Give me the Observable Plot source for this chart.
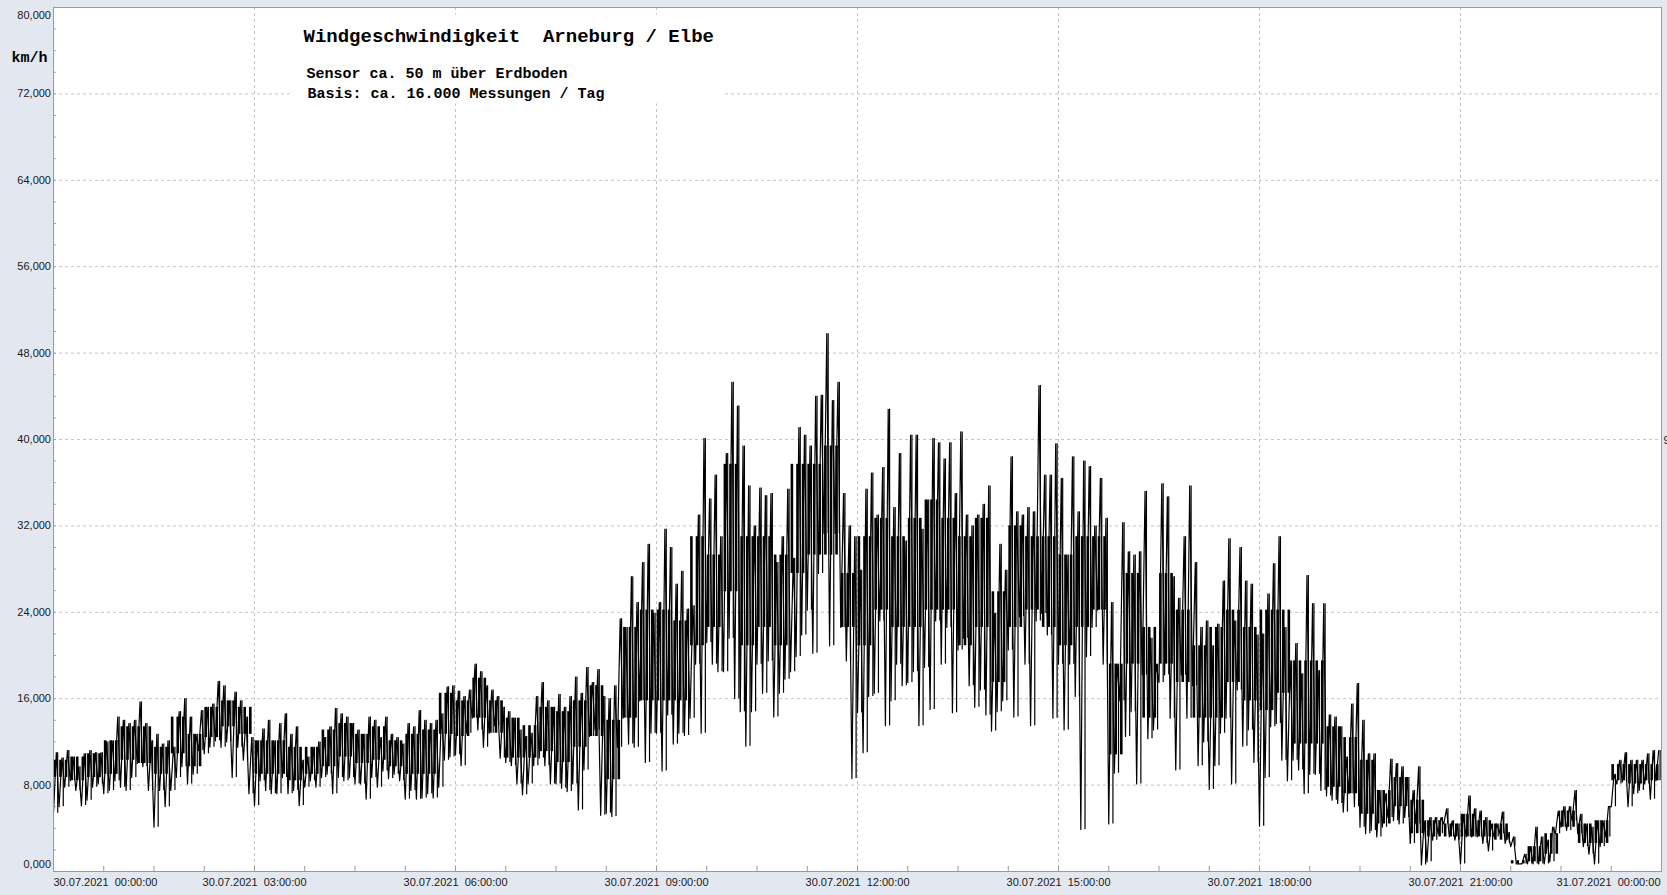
<!DOCTYPE html>
<html>
<head>
<meta charset="utf-8">
<script src="https://cdn.jsdelivr.net/npm/d3@7"></script>
<script src="https://cdn.jsdelivr.net/npm/@observablehq/plot@0.6"></script>
<style>
html, body { margin: 0; padding: 0; background: #e3e7ef; overflow: hidden; }
#chart { width: 1667px; height: 895px; }
svg text { white-space: pre; }
</style>
</head>
<body>
<div id="chart"></div>
<script>
// Readings: 5-minute bins over 30.07.2021 00:00 – 31.07.2021 00:00 (km/h)
// minimum reading in each 5-minute bin
const lo = [
  5.4, 6.0, 7.8, 8.4, 7.5, 6.1, 6.6, 7.8, 8.1, 7.2, 7.5, 8.4,
  7.8, 7.5, 8.7, 10.0, 9.7, 7.5, 4.1, 7.5, 6.0, 7.5, 8.7, 9.7,
  8.1, 9.0, 11.2, 10.9, 11.5, 12.1, 11.5, 12.0, 8.7, 11.5, 10.3, 7.2,
  6.1, 8.4, 7.5, 7.2, 7.2, 8.7, 7.2, 7.5, 6.1, 7.8, 8.4, 7.8,
  8.7, 9.0, 7.2, 8.7, 8.4, 8.7, 8.1, 8.1, 6.7, 8.7, 7.8, 9.3,
  8.6, 9.0, 8.4, 6.7, 7.5, 6.7, 6.8, 7.2, 6.8, 7.8, 10.3, 10.6,
  10.8, 9.8, 12.8, 14.2, 13.1, 11.5, 12.8, 13.5, 10.5, 10.1, 9.8, 8.1,
  7.1, 8.1, 9.8, 10.5, 9.8, 8.1, 8.1, 7.7, 7.4, 8.1, 5.7, 9.4,
  12.5, 13.1, 5.2, 5.4, 5.1, 11.5, 14.2, 11.8, 11.5, 15.8, 10.1, 12.8,
  12.8, 9.3, 14.5, 11.8, 12.8, 12.6, 14.2, 19.2, 12.8, 21.2, 19.2, 18.5,
  18.5, 21.6, 16.0, 14.8, 11.6, 14.8, 19.2, 16.5, 19.5, 14.3, 16.5, 17.8,
  18.5, 19.9, 21.9, 24.2, 20.2, 27.6, 31.3, 20.9, 31.3, 22.6, 19.5, 8.6,
  14.7, 11.0, 16.2, 16.5, 23.2, 13.5, 15.8, 19.2, 17.2, 17.5, 18.5, 13.5,
  18.9, 15.0, 23.2, 19.2, 22.6, 14.7, 20.5, 21.6, 17.2, 15.2, 16.8, 14.5,
  13.0, 14.8, 15.8, 20.5, 14.3, 23.6, 19.2, 13.5, 23.2, 23.9, 21.9, 14.2,
  19.2, 13.1, 19.2, 16.2, 3.9, 19.9, 22.6, 24.2, 19.2, 4.4, 9.1, 15.8,
  12.5, 14.8, 8.1, 18.2, 12.3, 13.1, 17.5, 18.2, 14.2, 9.4, 18.2, 14.2,
  17.2, 9.8, 12.0, 7.6, 9.8, 12.8, 14.2, 8.1, 16.8, 11.6, 13.1, 10.1,
  4.2, 8.7, 13.4, 13.7, 10.3, 8.4, 10.3, 9.4, 7.2, 9.0, 9.0, 7.5,
  7.0, 6.6, 6.3, 5.5, 7.2, 6.0, 4.1, 3.5, 3.8, 3.2, 4.1, 5.0,
  4.7, 4.4, 5.0, 2.6, 4.4, 0.6, 0.9, 2.9, 3.5, 4.4, 3.2, 2.9,
  0.7, 3.2, 3.2, 3.2, 2.6, 1.9, 3.2, 3.5, 2.6, 2.3, 0.7, 0.7,
  0.7, 0.7, 0.7, 0.7, 0.9, 3.5, 4.1, 3.8, 4.7, 3.5, 2.3, 1.6,
  0.7, 2.3, 3.2, 6.0, 8.1, 8.3, 6.0, 7.2, 7.5, 8.1, 6.7, 8.4
];
// maximum reading in each 5-minute bin
const hi = [
  11.0, 10.5, 11.2, 10.6, 9.7, 10.9, 11.2, 11.0, 11.0, 12.0, 12.1, 14.3,
  14.0, 13.7, 14.0, 15.7, 13.7, 12.1, 12.7, 11.8, 12.1, 11.5, 14.8, 16.0,
  14.3, 12.7, 14.9, 15.2, 15.5, 17.6, 17.2, 15.8, 16.6, 15.8, 14.3, 12.4,
  12.1, 13.2, 14.0, 12.1, 13.7, 14.6, 12.7, 13.4, 10.3, 10.6, 11.5, 12.0,
  12.4, 13.4, 15.1, 14.6, 14.3, 13.7, 13.1, 12.7, 14.3, 14.0, 12.4, 14.3,
  12.7, 12.4, 11.8, 13.7, 13.4, 14.9, 14.0, 13.7, 14.0, 14.6, 17.1, 17.2,
  16.7, 16.2, 16.8, 19.2, 18.5, 17.2, 16.8, 16.2, 15.2, 14.8, 14.2, 13.1,
  12.5, 12.8, 16.2, 17.5, 15.8, 15.2, 16.4, 15.2, 16.2, 18.0, 16.5, 18.9,
  17.5, 18.7, 16.2, 16.0, 17.2, 23.4, 22.6, 27.3, 24.9, 28.6, 30.3, 23.9,
  24.9, 31.7, 30.0, 26.6, 27.8, 24.3, 24.6, 33.0, 40.1, 34.5, 36.7, 31.0,
  38.7, 45.3, 43.1, 39.4, 35.7, 32.0, 35.5, 34.8, 35.0, 28.6, 31.0, 35.4,
  29.0, 41.1, 40.4, 39.4, 44.0, 44.1, 49.8, 43.6, 45.3, 35.0, 32.0, 31.0,
  27.9, 35.4, 36.9, 33.0, 37.4, 42.8, 33.7, 38.7, 30.6, 40.4, 40.4, 31.7,
  34.4, 40.1, 39.7, 38.2, 39.7, 35.0, 40.7, 33.0, 32.0, 33.0, 34.0, 35.7,
  23.9, 30.3, 27.9, 38.4, 33.3, 33.0, 33.7, 33.3, 45.0, 36.7, 36.7, 39.6,
  36.4, 29.3, 38.4, 33.3, 38.0, 37.5, 32.0, 36.4, 32.7, 24.9, 19.2, 32.3,
  29.6, 29.3, 29.6, 35.2, 21.6, 19.2, 35.9, 34.7, 27.3, 25.3, 31.0, 35.7,
  28.6, 22.6, 23.2, 20.9, 22.9, 26.9, 30.8, 23.2, 30.0, 26.9, 26.6, 21.9,
  22.0, 25.7, 28.5, 31.0, 22.6, 19.5, 21.1, 18.3, 27.4, 24.8, 18.6, 24.8,
  14.5, 14.3, 13.4, 10.6, 15.5, 17.4, 14.0, 10.9, 10.9, 7.5, 7.2, 10.4,
  10.0, 9.7, 8.7, 7.5, 9.7, 4.7, 5.0, 5.0, 5.0, 5.8, 4.7, 4.4,
  5.3, 7.0, 5.8, 5.6, 5.0, 4.4, 4.4, 5.5, 3.6, 3.2, 0.7, 1.6,
  2.3, 4.1, 3.2, 2.9, 4.1, 5.6, 6.0, 6.0, 7.5, 5.3, 4.4, 4.1,
  4.7, 4.7, 6.0, 9.0, 10.3, 11.0, 10.3, 10.3, 10.3, 10.9, 11.2, 11.2
];
// dense core of the trace, per 15-minute quarter: lower edge
const coreLo = [
  8.7, 8.4, 8.7, 9.0, 10.3, 10.0, 9.0, 10.9, 9.7, 12.4, 13.4, 12.7,
  9.0, 9.0, 8.4, 9.0, 9.7, 10.6, 10.0, 10.3, 9.7, 9.0, 9.0, 12.7,
  12.5, 14.2, 12.8, 10.5, 10.5, 11.1, 10.1, 11.5, 12.5, 8.5, 14.2, 15.8,
  15.8, 15.8, 20.9, 22.6, 25.9, 20.9, 22.6, 20.9, 27.6, 29.3, 29.3, 22.6,
  20.9, 24.2, 22.6, 22.6, 24.2, 24.2, 20.9, 22.6, 17.5, 22.6, 24.2, 22.6,
  20.9, 22.6, 24.2, 10.8, 19.2, 14.2, 19.2, 17.5, 14.2, 14.2, 17.5, 15.8,
  14.9, 16.5, 11.8, 11.8, 7.8, 7.2, 5.3, 4.4, 6.0, 3.5, 3.2, 3.2,
  3.2, 3.2, 2.9, 0.7, 0.9, 1.6, 4.1, 2.6, 2.6, 8.4, 8.1, 8.4
];
// dense core of the trace, per 15-minute quarter: upper edge
const coreHi = [
  10.3, 10.6, 10.9, 12.1, 13.4, 13.4, 11.5, 14.3, 12.7, 15.2, 15.8, 15.2,
  12.1, 12.1, 11.5, 11.5, 13.1, 13.7, 12.7, 13.4, 12.1, 12.7, 13.1, 16.5,
  15.8, 17.9, 15.8, 14.2, 13.5, 15.2, 14.8, 15.8, 17.2, 14.0, 22.6, 24.2,
  24.2, 23.2, 31.0, 29.3, 37.7, 31.0, 31.0, 29.3, 37.7, 37.7, 39.4, 27.6,
  31.0, 32.7, 31.0, 32.7, 34.4, 32.7, 31.0, 32.7, 25.9, 32.0, 31.0, 31.0,
  29.3, 31.0, 31.0, 19.2, 27.6, 22.6, 27.6, 24.2, 20.9, 22.6, 24.2, 22.6,
  24.2, 24.2, 19.5, 19.5, 13.4, 12.4, 10.3, 7.5, 8.7, 6.6, 4.7, 4.4,
  5.3, 4.7, 4.4, 1.0, 2.3, 3.5, 5.6, 4.4, 4.7, 9.9, 9.9, 9.9
];
const yTicks = [0, 8, 16, 24, 32, 40, 48, 56, 64, 72, 80];
const xTickHours = [0, 3, 6, 9, 12, 15, 18, 21, 24];
const titleText = "Windgeschwindigkeit  Arneburg / Elbe";
const subtitle1 = "Sensor ca. 50 m über Erdboden";
const subtitle2 = "Basis: ca. 16.000 Messungen / Tag";
const unitText = "km/h";

const t0 = Date.UTC(2021, 6, 30, 0, 0, 0);
const t1 = Date.UTC(2021, 6, 31, 0, 0, 0);
const binMs = 5 * 60 * 1000;

// trace: each 5-minute bin contributes its minimum and its maximum
const points = [];
lo.forEach((v, i) => {
  points.push({t: new Date(t0 + i * binMs), v: lo[i]});
  points.push({t: new Date(t0 + i * binMs + binMs / 2), v: hi[i]});
});
// per-bin vertical strokes: full range, and the dense core of the bin's quarter hour
const bins = lo.map((v, i) => ({
  t: new Date(t0 + i * binMs + binMs * 0.75),
  tc: new Date(t0 + i * binMs + binMs * 0.25),
  lo: lo[i], hi: hi[i],
  clo: coreLo[Math.floor(i / 3)], chi: coreHi[Math.floor(i / 3)]
}));

const hourDate = h => new Date(t0 + h * 3600e3);
const xMajor = xTickHours.map(hourDate);
const xMinor = d3.range(0, 24 * 60 + 1, 45).map(m => new Date(t0 + m * 60e3));
const yMinor = d3.range(0, 81, 2);
const fmtX = d3.utcFormat("%d.%m.%Y  %H:%M:%S");
const fmtY = d => d.toFixed(3).replace(".", ",");

const W = 1667, H = 895, ML = 53, MR = 6, MT = 7, MB = 24;
const innerW = W - ML - MR, innerH = H - MT - MB;
const gridStyle = {stroke: "#c4c4c4", strokeOpacity: 1, strokeDasharray: "3,3"};
const monoBold = {fontFamily: "Liberation Mono, monospace", fontWeight: "bold", fill: "#000", frameAnchor: "top-left", textAnchor: "start", lineAnchor: "bottom", text: d => d};

const chart = Plot.plot({
  width: W, height: H,
  marginLeft: ML, marginRight: MR, marginTop: MT, marginBottom: MB,
  style: {background: "transparent", fontFamily: "Liberation Sans, Arial, sans-serif", fontSize: "11px", color: "#1a1a1a", overflow: "visible"},
  x: {type: "utc", domain: [new Date(t0), new Date(t1)], label: null},
  y: {domain: [0, 80], label: null},
  marks: [
    Plot.frame({fill: "white", stroke: null}),
    Plot.gridX(xMajor.slice(1, -1), gridStyle),
    Plot.gridY(yTicks.slice(1, -1), gridStyle),
    Plot.frame({fill: "white", stroke: null, insetLeft: 237, insetRight: 938, insetTop: 7, insetBottom: 768}),
    Plot.tickY(yMinor, {y: d => d, stroke: "#a8a8a8", insetRight: innerW - 3}),
    Plot.tickX(xMinor, {x: d => d, stroke: "#999", insetTop: innerH - 5}),
    Plot.ruleX(bins, {x: "tc", y1: "clo", y2: "chi", stroke: "#000", strokeWidth: 2.6}),
    Plot.ruleX(bins, {x: "t", y1: "lo", y2: "hi", stroke: "#000", strokeWidth: 1.2}),
    Plot.line(points, {x: "t", y: "v", stroke: "#000", strokeWidth: 1.2, curve: "linear"}),
    Plot.frame({stroke: "#9a9a9a"}),
    Plot.axisY(yTicks.slice(1, -1), {tickSize: 0, tickPadding: 2.5, tickFormat: fmtY, label: null}),
    Plot.axisY([80], {tickSize: 0, tickPadding: 2.5, tickFormat: fmtY, dy: 7.5, label: null}),
    Plot.axisY([0], {tickSize: 0, tickPadding: 2.5, tickFormat: fmtY, dy: -7, label: null}),
    Plot.axisX(xMajor.slice(1, -1), {tickSize: 0, tickPadding: 7, tickFormat: fmtX, label: null}),
    Plot.axisX(xMajor.slice(0, 1), {tickSize: 0, tickPadding: 7, tickFormat: fmtX, textAnchor: "start", label: null}),
    Plot.axisX(xMajor.slice(-1), {tickSize: 0, tickPadding: 7, tickFormat: fmtX, textAnchor: "end", dx: -1, label: null}),
    Plot.text([titleText], {...monoBold, fontSize: 19, dx: 250, dy: 34}),
    Plot.text([subtitle1], {...monoBold, fontSize: 15, dx: 253, dy: 70}),
    Plot.text([subtitle2], {...monoBold, fontSize: 15, dx: 254, dy: 90.5}),
    Plot.text([unitText], {...monoBold, fontSize: 15, dx: -42, dy: 54}),
    Plot.text(["9"], {text: d => d, frameAnchor: "top-right", textAnchor: "start", lineAnchor: "bottom", dx: 2, dy: 436, fontSize: 11, fill: "#222"})
  ]
});
document.getElementById("chart").appendChild(chart);
</script>
</body>
</html>
